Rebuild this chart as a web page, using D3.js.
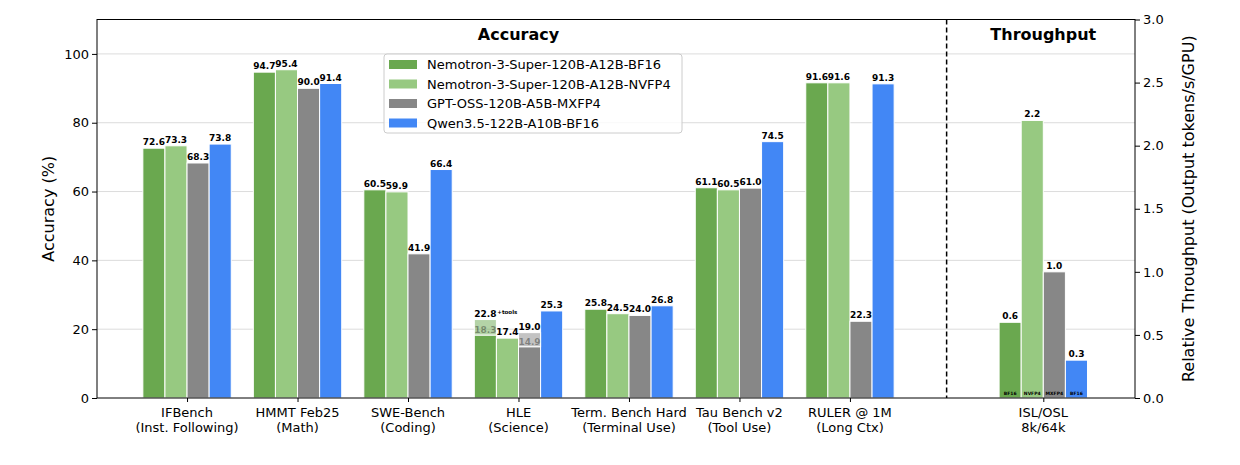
<!DOCTYPE html>
<html><head><meta charset="utf-8">
<script src="https://cdn.jsdelivr.net/npm/d3@7"></script>
<style>body{margin:0;background:#fff;} svg{font-family:"DejaVu Sans",sans-serif;}</style>
</head><body>
<svg id="c" width="1240" height="465"></svg>
<script>
const categoryNames = ["IFBench","HMMT Feb25","SWE-Bench","HLE","Term. Bench Hard","Tau Bench v2","RULER @ 1M"];
const categorySubs = ["(Inst. Following)","(Math)","(Coding)","(Science)","(Terminal Use)","(Tool Use)","(Long Ctx)"];
const seriesNames = ["Nemotron-3-Super-120B-A12B-BF16","Nemotron-3-Super-120B-A12B-NVFP4","GPT-OSS-120B-A5B-MXFP4","Qwen3.5-122B-A10B-BF16"];
const seriesColors = ["#6aa84f","#97c981","#878787","#4287f5"];
const bf16Values  = [72.6, 94.7, 60.5, 18.3, 25.8, 61.1, 91.6];
const nvfp4Values = [73.3, 95.4, 59.9, 17.4, 24.5, 60.5, 91.6];
const mxfp4Values = [68.3, 90.0, 41.9, 14.9, 24.0, 61.0, 22.3];
const qwenValues  = [73.8, 91.4, 66.4, 25.3, 26.8, 74.5, 91.3];
const hleWithTools = [22.8, null, 19.0, null];
const throughputLabel = ["ISL/OSL","8k/64k"];
const throughputValues = [0.6, 2.2, 1.0, 0.3];
const throughputTags = ["BF16","NVFP4","MXFP4","BF16"];
const leftTicks = [0,20,40,60,80,100];
const rightTicks = [0,0.5,1.0,1.5,2.0,2.5,3.0];

const series = [bf16Values, nvfp4Values, mxfp4Values, qwenValues];
const svg = d3.select("#c");
const L = 97, R = 1135, T = 19.5, B = 398;
const thrPos = 7.75, dividerPos = 6.875;
const x = d3.scaleLinear().domain([-0.815, 8.58]).range([L, R]);
const y = d3.scaleLinear().domain([0, 110]).range([B, T]);
const yR = d3.scaleLinear().domain([0, 3]).range([B, T]);
const bw = 0.2;
const offs = [-1.5, -0.5, 0.5, 1.5];

// grid
svg.append("g").selectAll("line").data(leftTicks.filter(d=>d>0)).join("line")
  .attr("x1", L).attr("x2", R).attr("y1", d=>y(d)).attr("y2", d=>y(d))
  .attr("stroke", "#dcdcdc").attr("stroke-width", 1);

// bars
const gb = svg.append("g");
series.forEach((vals, s) => {
  vals.forEach((v, i) => {
    const x0 = x(i + offs[s]*bw - bw/2), x1 = x(i + offs[s]*bw + bw/2);
    gb.append("rect").attr("x", x0).attr("y", y(v)).attr("width", x1-x0).attr("height", y(0)-y(v))
      .attr("fill", seriesColors[s]).attr("stroke", "#fff").attr("stroke-width", 1);
  });
});
// HLE tools extension
const hleIdx = categoryNames.indexOf("HLE");
hleWithTools.forEach((tv, s) => {
  if (tv == null) return;
  const base = series[s][hleIdx];
  const x0 = x(hleIdx + offs[s]*bw - bw/2), x1 = x(hleIdx + offs[s]*bw + bw/2);
  gb.append("rect").attr("x", x0).attr("y", y(tv)).attr("width", x1-x0).attr("height", y(base)-y(tv))
    .attr("fill", seriesColors[s]).attr("fill-opacity", 0.5).attr("stroke", "#fff").attr("stroke-width", 1);
});
// throughput bars
throughputValues.forEach((v, s) => {
  const x0 = x(thrPos + offs[s]*bw - bw/2), x1 = x(thrPos + offs[s]*bw + bw/2);
  gb.append("rect").attr("x", x0).attr("y", yR(v)).attr("width", x1-x0).attr("height", yR(0)-yR(v))
    .attr("fill", seriesColors[s]).attr("stroke", "#fff").attr("stroke-width", 1);
});

// value labels
const gl = svg.append("g").attr("font-size", 9).attr("font-weight", "bold").attr("text-anchor", "middle");
series.forEach((vals, s) => {
  vals.forEach((v, i) => {
    const cx = x(i + offs[s]*bw);
    const tv = (i === hleIdx) ? hleWithTools[s] : null;
    if (tv != null) {
      gl.append("text").attr("x", cx).attr("y", y(tv) - 3).text(tv.toFixed(1));
      gl.append("text").attr("x", cx).attr("y", y(v) - 2).attr("fill", "#000").attr("fill-opacity", 0.35).text(v.toFixed(1));
    } else {
      gl.append("text").attr("x", cx).attr("y", y(v) - 3).text(v.toFixed(1));
    }
  });
});
// +tools note
gl.append("text").attr("x", x(hleIdx + offs[0]*bw) + 12).attr("y", y(hleWithTools[0]) - 6)
  .attr("font-size", 5.5).attr("text-anchor", "start").text("+tools");
throughputValues.forEach((v, s) => {
  const cx = x(thrPos + offs[s]*bw);
  gl.append("text").attr("x", cx).attr("y", yR(v) - 3).text(v.toFixed(1));
  gl.append("text").attr("x", cx).attr("y", B - 3).attr("font-size", 4.5).text(throughputTags[s]);
});

// divider
svg.append("line").attr("x1", x(dividerPos)).attr("x2", x(dividerPos)).attr("y1", T).attr("y2", B)
  .attr("stroke", "#000").attr("stroke-width", 1.5).attr("stroke-dasharray", "5,3");

// frame
svg.append("rect").attr("x", L).attr("y", T).attr("width", R-L).attr("height", B-T)
  .attr("fill", "none").attr("stroke", "#000").attr("stroke-width", 1);

// axes
const axL = svg.append("g").attr("transform", `translate(${L},0)`)
  .call(d3.axisLeft(y).tickValues(leftTicks).tickFormat(d3.format("d")).tickSize(5).tickPadding(3));
const axR = svg.append("g").attr("transform", `translate(${R},0)`)
  .call(d3.axisRight(yR).tickValues(rightTicks).tickFormat(d3.format(".1f")).tickSize(5).tickPadding(3));
const xTicks = categoryNames.map((_, i) => i).concat([thrPos]);
const axB = svg.append("g").attr("transform", `translate(0,${B})`)
  .call(d3.axisBottom(x).tickValues(xTicks).tickFormat("").tickSize(4));
[axL, axR, axB].forEach(a => {
  a.select(".domain").remove();
  a.selectAll("text").attr("font-size", 13).attr("fill", "#000").attr("font-family", "DejaVu Sans");
  a.selectAll("line").attr("stroke", "#000");
});

// x labels
const gx = svg.append("g").attr("font-size", 13).attr("text-anchor", "middle");
categoryNames.forEach((n, i) => {
  gx.append("text").attr("x", x(i)).attr("y", 417).text(n);
  gx.append("text").attr("x", x(i)).attr("y", 432).text(categorySubs[i]);
});
gx.append("text").attr("x", x(thrPos)).attr("y", 417).text(throughputLabel[0]);
gx.append("text").attr("x", x(thrPos)).attr("y", 432).text(throughputLabel[1]);

// titles
svg.append("text").attr("x", x(3)).attr("y", 40).attr("text-anchor", "middle")
  .attr("font-size", 16).attr("font-weight", "bold").text("Accuracy");
svg.append("text").attr("x", x(thrPos)).attr("y", 40).attr("text-anchor", "middle")
  .attr("font-size", 16).attr("font-weight", "bold").text("Throughput");

// axis titles
svg.append("text").attr("transform", `translate(54,${(T+B)/2}) rotate(-90)`).attr("text-anchor", "middle")
  .attr("font-size", 16).text("Accuracy (%)");
svg.append("text").attr("transform", `translate(1194,${(T+B)/2}) rotate(-90)`).attr("text-anchor", "middle")
  .attr("font-size", 16).text("Relative Throughput (Output tokens/s/GPU)");

// legend
const lg = svg.append("g").attr("transform", "translate(384,54)");
lg.append("rect").attr("x", 0).attr("y", 0).attr("width", 298).attr("height", 79).attr("rx", 3)
  .attr("fill", "#fff").attr("fill-opacity", 0.8).attr("stroke", "#cccccc");
seriesNames.forEach((n, s) => {
  const cy = 10.5 + s*19.5;
  lg.append("rect").attr("x", 5).attr("y", cy - 4.5).attr("width", 28).attr("height", 9).attr("fill", seriesColors[s]);
  lg.append("text").attr("x", 43).attr("y", cy + 4.5).attr("font-size", 13).text(n);
});
</script>
</body></html>
